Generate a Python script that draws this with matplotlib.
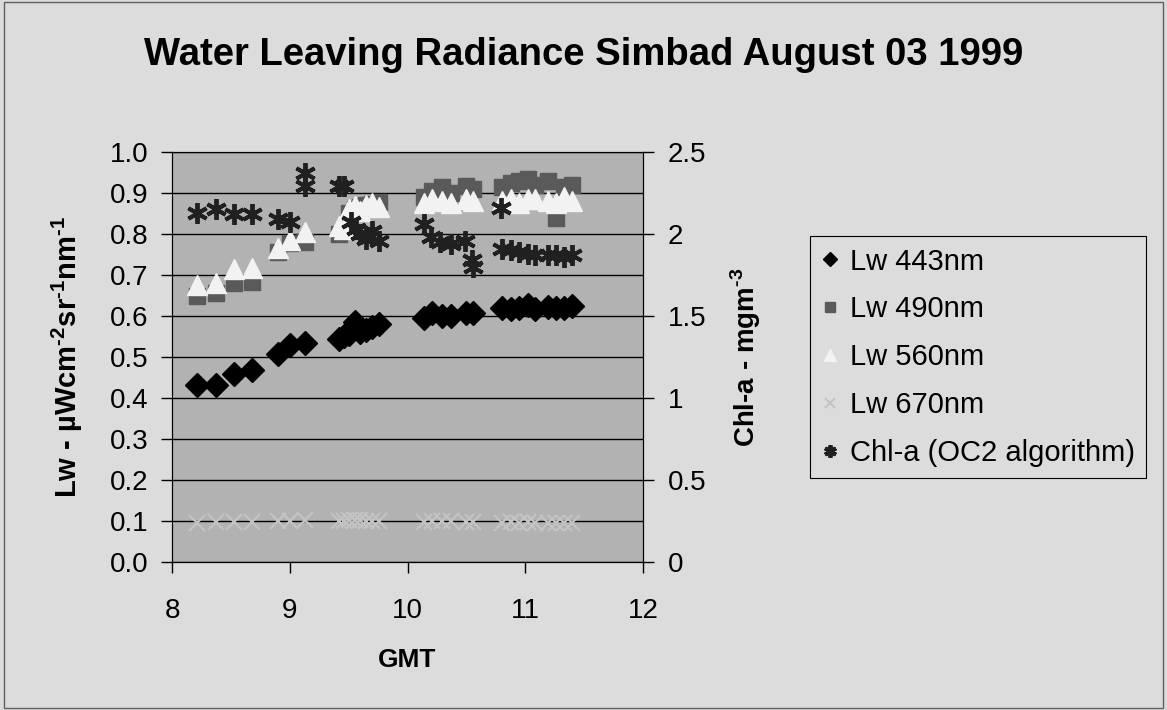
import numpy as np
import matplotlib
matplotlib.use("Agg")
import matplotlib.pyplot as plt

plt.rcParams['font.family'] = ['Liberation Sans', 'DejaVu Sans']
plt.rcParams['mathtext.fontset'] = 'custom'
plt.rcParams['mathtext.rm'] = 'Liberation Sans:bold'
plt.rcParams['mathtext.bf'] = 'Liberation Sans:bold'

# GMT hours of the radiance samples
times = [8.21, 8.37, 8.53, 8.68, 8.90, 9.00, 9.13, 9.42, 9.46, 9.50, 9.55, 9.60, 9.65, 9.70, 9.76,
         10.14, 10.21, 10.29, 10.37, 10.50, 10.56,
         10.80, 10.88, 10.95, 11.02, 11.08, 11.19, 11.26, 11.33, 11.40]
lw443 = [0.432, 0.432, 0.458, 0.468, 0.508, 0.530, 0.533, 0.543, 0.550, 0.556, 0.585, 0.562, 0.566, 0.572, 0.580,
         0.595, 0.608, 0.600, 0.600, 0.608, 0.607,
         0.620, 0.618, 0.620, 0.627, 0.618, 0.622, 0.620, 0.620, 0.625]
lw490 = [0.648, 0.656, 0.680, 0.684, 0.756, 0.778, 0.780, 0.800, 0.810, 0.850, 0.860, 0.865, 0.870, 0.872, 0.878,
         0.890, 0.905, 0.915, 0.900, 0.918, 0.910,
         0.915, 0.925, 0.930, 0.935, 0.920, 0.930, 0.840, 0.915, 0.920]
lw560 = [0.675, 0.680, 0.715, 0.718, 0.765, 0.785, 0.805, 0.820, 0.812, 0.860, 0.868, 0.855, 0.870, 0.875, 0.865,
         0.875, 0.885, 0.880, 0.875, 0.885, 0.880,
         0.880, 0.885, 0.875, 0.885, 0.885, 0.880, 0.875, 0.890, 0.880]
lw670 = [0.096, 0.097, 0.098, 0.098, 0.100, 0.101, 0.102, 0.100, 0.101, 0.102, 0.103, 0.102, 0.101, 0.100, 0.099,
         0.098, 0.099, 0.100, 0.099, 0.098, 0.097,
         0.096, 0.097, 0.096, 0.097, 0.096, 0.095, 0.096, 0.095, 0.096]

# chlorophyll (right axis), own sample times
chl_t = [8.21, 8.37, 8.53, 8.68, 8.90, 9.00, 9.13, 9.13, 9.42, 9.46, 9.52, 9.56, 9.60, 9.65, 9.70, 9.76,
         10.14, 10.20, 10.28, 10.37, 10.49, 10.55, 10.56,
         10.79, 10.80, 10.88, 10.95, 11.02, 11.08, 11.19, 11.26, 11.33, 11.40]
chl = [2.13, 2.15, 2.12, 2.12, 2.09, 2.07, 2.37, 2.29, 2.29, 2.29, 2.07, 2.03, 2.00, 1.97, 2.02, 1.96,
       2.06, 1.98, 1.95, 1.94, 1.96, 1.84, 1.80,
       2.16, 1.91, 1.90, 1.89, 1.88, 1.87, 1.87, 1.87, 1.86, 1.87]

xticks = [8, 9, 10, 11, 12]
yticks = np.arange(0, 1.01, 0.1)
y2ticks = [0, 0.5, 1, 1.5, 2, 2.5]
y2labels = ['0', '0.5', '1', '1.5', '2', '2.5']

figbg = '#dcdcdc'
axbg = '#b2b2b2'

fig = plt.figure(figsize=(11.67, 7.10), dpi=100, facecolor=figbg)
ax = fig.add_axes([0.1474, 0.2085, 0.4036, 0.5775])
ax.set_facecolor(axbg)

h1, = ax.plot(times, lw443, 'D', color='black', markersize=12, ls='none', label='Lw 443nm')
h2, = ax.plot(times, lw490, 's', color='#5a5a5a', markersize=11, ls='none', label='Lw 490nm')
h3, = ax.plot(times, lw560, '^', color='#f2f2f2', markersize=14, ls='none', label='Lw 560nm')
h4, = ax.plot(times, lw670, 'x', color='#c4c4c4', markersize=11, mew=1.5, ls='none', label='Lw 670nm')

ax.set_xlim(8, 12)
ax.set_ylim(0, 1.0)
ax.set_xticks(xticks)
ax.set_yticks(yticks)
ax.set_yticklabels(['%.1f' % v for v in yticks])
ax.grid(axis='y', color='black', lw=1)
ax.set_axisbelow(True)
ax.tick_params(labelsize=20, direction='out', length=8, width=1)
ax.tick_params(axis='x', pad=18)
ax.tick_params(axis='y', pad=9)
for s in ax.spines.values():
    s.set_color('black')

ax.set_xlabel('GMT', fontsize=19, fontweight='bold', labelpad=17)
ax.set_ylabel(r'Lw - µWcm$^{\text{-2}}$sr$^{\text{-1}}$nm$^{\text{-1}}$',
              fontsize=21, fontweight='bold', labelpad=18)

ax2 = ax.twinx()
h5, = ax2.plot(chl_t, chl, marker=(6, 2, 0), color='#202020', markersize=15, mew=2.8,
               ls='none', label='Chl-a (OC2 algorithm)')
ax2.set_ylim(0, 2.5)
ax2.set_yticks(y2ticks)
ax2.set_yticklabels(y2labels)
ax2.tick_params(labelsize=20, direction='out', length=8, width=1, pad=10)
ax2.set_ylabel(r'Chl-a - mgm$^{\text{-3}}$', fontsize=20, fontweight='bold', labelpad=16)

fig.suptitle('Water Leaving Radiance Simbad August 03 1999', fontsize=27.5, fontweight='bold', y=0.948)

leg = fig.legend(handles=[h1, h2, h3, h4, h5], loc='upper left', bbox_to_anchor=(0.694, 0.667),
                 fontsize=21, frameon=True, fancybox=False, edgecolor='black',
                 facecolor=figbg, framealpha=1, handlelength=0.6, handletextpad=0.4,
                 labelspacing=0.68, borderpad=0.38, borderaxespad=0, markerscale=0.6)
leg.get_frame().set_linewidth(0.8)

fig.patches.append(plt.Rectangle((0.003, 0.003), 0.994, 0.994, transform=fig.transFigure,
                                 fill=False, edgecolor='#606060', lw=1))

fig.savefig('out.png', dpi=100, facecolor=figbg)
